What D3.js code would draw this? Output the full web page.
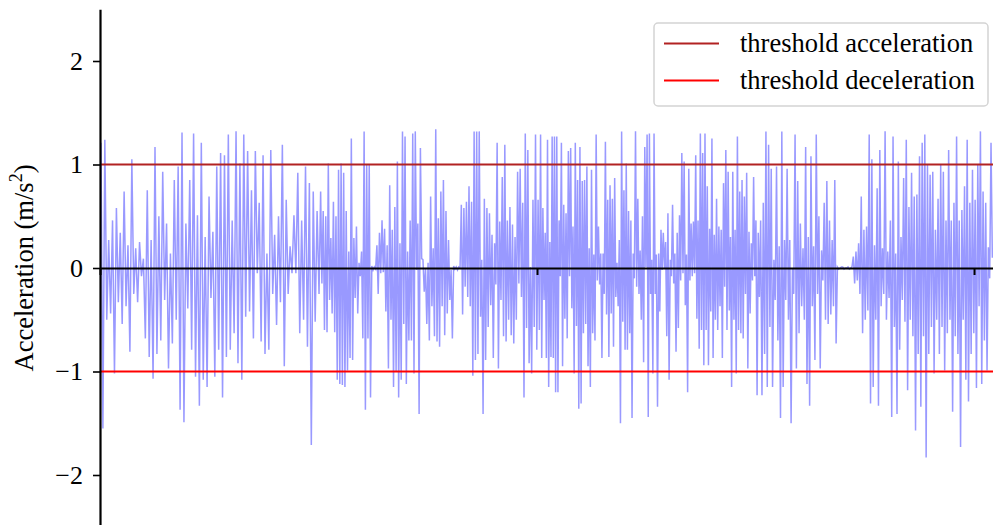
<!DOCTYPE html>
<html>
<head>
<meta charset="utf-8">
<script src="https://cdn.jsdelivr.net/npm/d3@7"></script>
<style>
  html, body { margin: 0; padding: 0; background: #fff; }
  svg { display: block; }
</style>
</head>
<body>
<svg id="chart" width="993" height="525"></svg>
<script>
// ---- data ----
// acceleration samples, four consecutive recording segments
const accelSeg1 = [1.21,-1.55, 1.24,-0.50, 0.27,-0.44, 0.46,-1.02, 0.58,-0.33, 0.34,-0.54, 0.74,-0.37, 0.22,-0.81, 1.05,-0.25, 0.19,-0.33, 0.25,-0.08, 0.09,-0.68, 0.75,-0.86, 0.27,-1.07, 1.17,-0.83, 0.50,-0.70, 0.93,-0.31, 0.43,-0.97, 0.14,-0.73, 0.85,-0.50, 0.98,-1.37, 1.31,-1.49, 0.43,-0.39, 0.85,-0.79, 1.30,-1.05, 0.51,-1.33, 1.21,-1.08, 0.30,-1.15, 0.69,-0.29, 0.35,-1.05, 0.98,-0.79, 1.11,-1.25, 1.09,-0.86, 1.29,-0.79, 0.46,-0.63, 1.32,-0.92, 1.01,-1.08, 1.29,-0.47, 1.13,-0.42, 0.75,-0.68, 1.13,-0.05, 0.63,-0.71, 1.09,-0.83, 0.14,-0.79, 1.14,-0.25, 0.32,-0.55, 0.50,-0.33, 1.19,-0.95, 0.66,-0.25, 0.21,-0.05, 0.51,-0.05, 0.92,-0.63, 0.46,-0.50, 0.98,-0.76, 0.82,-1.71, 0.74,-0.52, 0.55,-0.25];
const accelSeg2 = [0.74,-0.15, 0.55,-0.60, 0.50,-0.62, 1.01,-0.31, 0.29,-0.44, 0.64,-0.62, 0.50,-1.08, 0.95,-1.12, 1.01,-1.13, 0.92,-1.15, 0.55,-0.99, 0.16,-0.87, 1.25,-0.89, 0.29,-0.29, 0.40,-0.44, 0.05,-0.08, 0.16,-0.68, 1.32,-1.37, 1.00,-0.68, 1.00,-1.25, 0.02,-0.02, 0.01,-0.01, 0.22,-0.25, 0.34,-0.05, 0.46,-0.04, 0.38,-0.42, 0.22,-0.97, 0.80,-0.50, 0.37,-1.15, 0.59,-1.00, 1.03,-1.25, 0.24,-1.08, 1.32,-0.54, 1.27,-1.12, 0.16,-0.70, 0.46,-0.70, 1.30,-1.02, 1.32,-0.02, 0.43,-1.41, 1.16,0.09, 0.08,-0.23, 0.00,-0.54, 0.05,-0.70, 0.69,-0.37, 0.19,-0.66, 1.34,-0.71, 0.48,-0.76, 0.74,-0.37, 0.85,-0.65, 0.55,-0.44, 0.27,-0.31, -0.02,-0.68, 0.02,-0.01, 0.01,-0.02, 0.01,0.00, 0.61,-0.45, 0.58,-0.18, 0.64,-0.28, 0.79,-0.37, 0.64,-1.04, 1.32,-0.89, 1.32,-0.83, 1.32,-0.47, 0.08,-1.41, 0.67,-0.89, 0.58,-0.57, 0.53,-0.36, 0.32,-0.87, 0.24,-0.16, 1.21,-0.97, 0.45,-0.31, 0.88,-0.66, 1.19,-0.71, 0.46,-0.50, 0.59,-0.65, 0.42,-0.73, 0.30,-0.50, 0.93,-0.15, 0.96,-0.28, 0.63,-1.25, 1.30,-0.58, 1.14,-0.92, 0.01,-1.02, 0.66,-0.57, 1.29,-0.79, 0.66,-0.60];
const accelSeg3 = [1.29,-0.87, 0.58,-0.31, 0.34,-0.87, 1.24,-1.15, 0.25,-0.86, 1.27,-0.87, 1.27,-1.20, 1.27,-1.20, 0.46,-0.08, 1.21,-0.95, 0.61,-0.49, 0.53,-0.68, 1.13,-0.08, 1.16,-0.39, 0.40,-1.02, 1.21,-0.56, 0.85,-1.36, 1.17,-1.31, 0.84,-0.63, 0.85,-0.54, 0.98,-0.95, 0.19,-1.15, 0.95,-0.63, 0.13,-0.70, 1.29,-0.12, 0.40,-0.16, 0.14,-0.87, 0.14,-0.25, 1.22,-0.45, 0.66,-0.86, 0.80,-0.44, 0.67,-0.76, 0.87,-0.28, 0.05,-0.37, 0.27,-1.50, 1.32,-0.52, 0.75,-0.79, 1.01,-0.79, 0.55,-0.63, 0.46,-1.45, 0.14,-0.10, 1.32,-0.18, 0.67,-0.25, 0.17,-0.50, 0.50,-0.91, 1.17,0.01, 1.29,-1.44, 1.30,-0.25, 0.08,-1.02, 1.30,-0.25, 0.13,-1.34, 0.14,-0.42, 0.37,-0.02, 0.34,0.00, 0.25,-0.66, 0.53,-1.08, 0.08,-0.08, 0.61,-0.15, 0.14,-0.81, 0.34,-0.58, 0.51,-0.12, 1.11,-0.05, 1.03,-0.36, 0.13,-1.20, 0.96,-0.12, 0.43,-0.08, 0.45,-0.05, 1.09,-0.49, 0.46,-0.78, 1.30,-0.60, 1.11,-0.94, 1.30,-0.60, 0.79,-0.94, 0.38,-0.42, 1.25,-0.87, 0.32,-0.50, 0.67,-0.60, 0.40,-0.37, 0.37,-0.87, 0.82,-0.18, 1.14,-0.60, 0.93,-0.41, 0.30,-1.15, 0.93,-0.50, 0.37,-1.02, 1.27,-0.60, 0.74,-0.63, 0.85,-0.68, 0.69,-0.25, 0.92,-0.97, 0.35,-0.44, 0.24,-0.12, 0.88,-0.08, 0.46,-1.23, 0.34,-0.28];
const accelSeg4 = [0.46,-1.23, 0.63,-0.83, 1.32,-1.15, 1.19,-0.57, 0.96,-1.15, 0.08,-0.31, 0.98,-0.70, 0.21,-1.45, 1.32,-1.15, 0.27,-0.31, 0.96,-0.50, 0.27,-1.50, 0.00,-0.25, 1.29,-0.97, 0.84,-0.63, 0.43,-0.37, 0.19,-0.50, 1.17,-1.12, 0.30,-1.33, 1.08,-0.37, 0.21,-0.89, 1.29,-0.25, 0.50,-0.97, 0.17,-0.12, 0.63,-0.50, 0.84,-0.54, 0.46,-0.45, 0.27,-0.37, 0.85,-0.73, 0.01,-0.01, 0.00,0.01, 0.01,-0.01, 0.00,0.00, 0.01,-0.01, 0.00,0.01, 0.11,-0.15, 0.16,-0.12, 0.24,-0.25, 0.69,-0.63, 0.37,-0.50, 0.40,-0.41, 1.29,-1.31, 1.05,-1.15, 0.22,-0.50, 0.77,-1.33, 1.14,-0.37, 0.19,-0.25, 1.32,-0.50, 0.16,-0.29, 0.46,-1.44, 1.27,-0.57, 0.14,-1.41, 1.03,-0.79, 0.30,-0.31, 0.87,-0.52, 1.24,-1.18, 0.59,-0.50, 0.92,-0.66, 0.69,-1.57, 0.71,-0.83, 1.08,-1.34, 1.21,-0.66, 1.29,-1.83, 1.00,-0.83, 0.90,-0.57, 0.93,-1.02, 0.37,-0.50, 0.67,-0.83, 1.00,-0.57, 0.93,-0.99, 0.46,-0.63, 1.14,-0.50, 0.46,-1.39, 0.63,-0.66, 1.27,-0.83, 0.46,-1.73, 0.56,-0.50, 0.79,-1.08, 1.24,-1.29, 0.63,-0.83, 0.95,-0.63, 0.66,-1.16, 1.00,-0.37, 1.32,-1.12, 0.74,-0.70, 0.63,-0.99, 0.20,-0.10, 1.21,0.10];
// time span (sample index) covered by each segment
const segmentStart = [0, 2517, 5034, 7551];
const segmentEnd   = [2517, 5034, 7551, 10217];
const xTicks = [0, 5000, 10000];
const yTicks = [-2, -1, 0, 1, 2];
const thresholds = [
  { label: "threshold acceleration", value: 1,  color: "#b22222" },
  { label: "threshold deceleration", value: -1, color: "#ff0000" }
];

const SERIF = '"Liberation Serif", "Times New Roman", Tinos, serif';

// ---- build series ----
const segments = [accelSeg1, accelSeg2, accelSeg3, accelSeg4];
const series = [];
segments.forEach((seg, s) => {
  const step = (segmentEnd[s] - segmentStart[s]) / seg.length;
  seg.forEach((v, i) => series.push({ t: segmentStart[s] + (i + 0.5) * step, v }));
});

// ---- layout ----
const svg = d3.select("#chart");
const left = 100, right = 993;
const x = d3.scaleLinear().domain([0, 10217]).range([left, right]);
const y = d3.scaleLinear().domain([-2.5, 2.5]).range([526.75, 9.25]);

// data line
svg.append("path")
  .datum(series)
  .attr("fill", "none")
  .attr("stroke", "#9999ff")
  .attr("stroke-width", 1.5)
  .attr("stroke-linejoin", "miter")
  .attr("d", d3.line().x(d => x(d.t)).y(d => y(d.v)));

// threshold lines
svg.selectAll("line.thr")
  .data(thresholds)
  .join("line")
  .attr("class", "thr")
  .attr("x1", left).attr("x2", right)
  .attr("y1", d => y(d.value)).attr("y2", d => y(d.value))
  .attr("stroke", d => d.color)
  .attr("stroke-width", 2);

// x axis positioned at zero, no tick labels
const xAxis = svg.append("g")
  .attr("transform", `translate(0,${y(0)})`)
  .call(d3.axisBottom(x).tickValues(xTicks).tickFormat("").tickSize(7).tickSizeOuter(0));
xAxis.select(".domain").attr("stroke", "#000").attr("stroke-width", 2.2);
xAxis.selectAll(".tick line").attr("stroke", "#000").attr("stroke-width", 2);

// y axis
const yAxis = svg.append("g")
  .attr("transform", `translate(${left},0)`)
  .call(d3.axisLeft(y).tickValues(yTicks).tickSize(7).tickSizeOuter(0).tickPadding(10)
    .tickFormat(d => d < 0 ? "\u2212" + Math.abs(d) : String(d)));
yAxis.select(".domain").attr("stroke", "#000").attr("stroke-width", 2.2);
yAxis.selectAll(".tick line").attr("stroke", "#000").attr("stroke-width", 1.6);
yAxis.selectAll(".tick text")
  .style("font-family", SERIF)
  .style("font-size", "26px").attr("fill", "#000");

// y label
const yl = svg.append("text")
  .attr("transform", `translate(33,${y(0)}) rotate(-90)`)
  .attr("text-anchor", "middle")
  .style("font-family", SERIF)
  .style("font-size", "26.5px").attr("fill", "#000");
yl.append("tspan").text("Acceleration (m/s");
yl.append("tspan").style("font-size", "18px").attr("dy", -11).text("2");
yl.append("tspan").attr("dy", 11).text(")");

// legend
const lg = svg.append("g");
lg.append("rect")
  .attr("x", 654).attr("y", 23).attr("width", 334).attr("height", 83)
  .attr("rx", 4).attr("ry", 4)
  .attr("fill", "#fff").attr("fill-opacity", 0.85)
  .attr("stroke", "#d4d4d4").attr("stroke-width", 1.5);
const items = lg.selectAll("g.item").data(thresholds).join("g")
  .attr("class", "item")
  .attr("transform", (d, i) => `translate(0,${43.5 + i * 37})`);
items.append("line")
  .attr("x1", 664).attr("x2", 719)
  .attr("stroke", d => d.color).attr("stroke-width", 2);
items.append("text")
  .attr("x", 740).attr("y", 8.5)
  .style("font-family", SERIF)
  .style("font-size", "26.5px").attr("fill", "#000")
  .text(d => d.label);
</script>
</body>
</html>
